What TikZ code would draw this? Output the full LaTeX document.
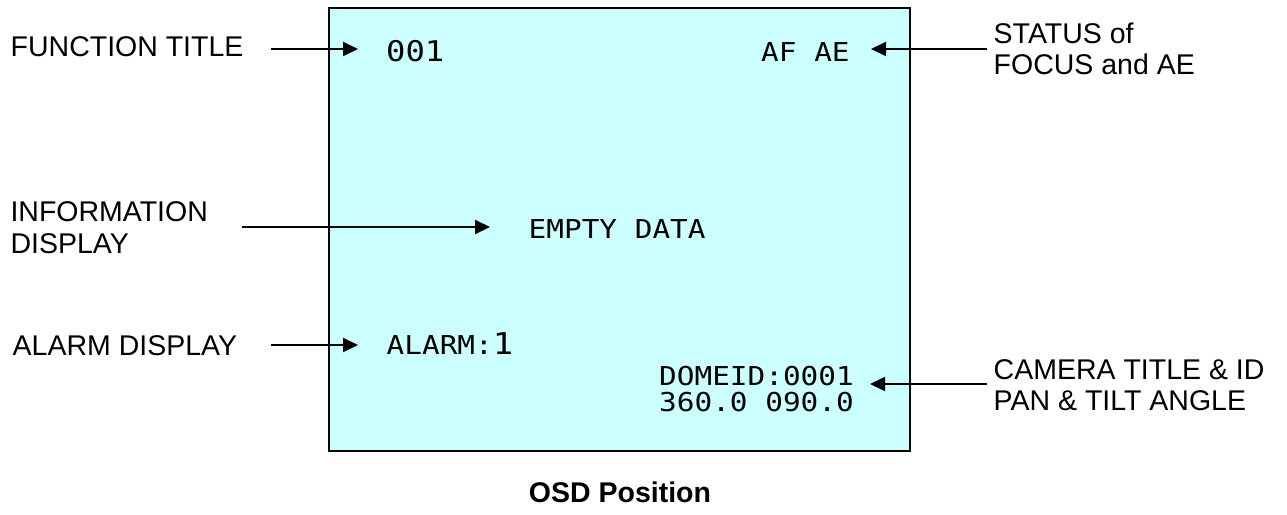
\documentclass[tikz,border=0pt]{standalone}
\usepackage{fontspec}
\setmainfont{Liberation Sans}
\newfontfamily\osdfont[FakeStretch=1.13]{DejaVu Sans Mono}
\usetikzlibrary{arrows.meta}
\definecolor{osdbg}{RGB}{204,255,255}
\begin{document}
\begin{tikzpicture}[x=1pt,y=-1pt,
  lbl/.style={inner sep=0pt, anchor=base west, font=\fontsize{28.5}{31.7}\selectfont},
  osd/.style={inner sep=0pt, anchor=base west, font=\osdfont\fontsize{26}{26}\selectfont},
  conn/.style={line width=2pt, -{Triangle[length=15pt,width=14pt]}},
]
\useasboundingbox (0,0) rectangle (1287,514);
\node[draw, line width=2pt, fill=osdbg, minimum width=581pt, minimum height=443pt, inner sep=0pt] (screen) at (619.5,229.5) {};
% labels
\node[lbl] (ft) at (10.5,56.7) {FUNCTION TITLE};
\node[lbl] (st) at (993.5,43) {\begin{tabular}[t]{@{}l@{}}STATUS of\\FOCUS and AE\end{tabular}};
\node[lbl] (inf) at (10.3,221.7) {\begin{tabular}[t]{@{}l@{}}INFORMATION\\DISPLAY\end{tabular}};
\node[lbl] (al) at (12.5,355) {ALARM DISPLAY};
\node[lbl] (cam) at (993.5,379) {\begin{tabular}[t]{@{}l@{}}CAMERA TITLE \& ID\\PAN \& TILT ANGLE\end{tabular}};
\node[inner sep=0pt, anchor=base, font=\bfseries\fontsize{28.5}{31.7}\selectfont] (cap) at (620,502) {OSD Position};
% OSD texts
\node[osd, font=\osdfont\fontsize{28.5}{28.5}\selectfont] (fn) at (386,61.7) {001};
\node[osd] (afae) at (761,61.7) {AF AE};
\node[osd] (empty) at (528.5,238.3) {EMPTY DATA};
\node[osd] (alarm) at (386.5,354.3) {ALARM:{\fontsize{30}{30}\selectfont 1}};
\node[osd, anchor=base east] (dome) at (854,385) {DOMEID:0001};
\node[osd, anchor=base east] (pt) at (854,411) {360.0 090.0};
% connector ends
\coordinate (c1s) at (271,49);   \coordinate (c1e) at (358,49);
\coordinate (c2s) at (987,49);   \coordinate (c2e) at (871,49);
\coordinate (c3s) at (242,227);  \coordinate (c3e) at (490,227);
\coordinate (c4s) at (271,345);  \coordinate (c4e) at (358,345);
\coordinate (c5s) at (987,384);  \coordinate (c5e) at (870,384);
\draw[conn] (c1s) -- (c1e);
\draw[conn] (c2s) -- (c2e);
\draw[conn] (c3s) -- (c3e);
\draw[conn] (c4s) -- (c4e);
\draw[conn] (c5s) -- (c5e);
\end{tikzpicture}
\end{document}
